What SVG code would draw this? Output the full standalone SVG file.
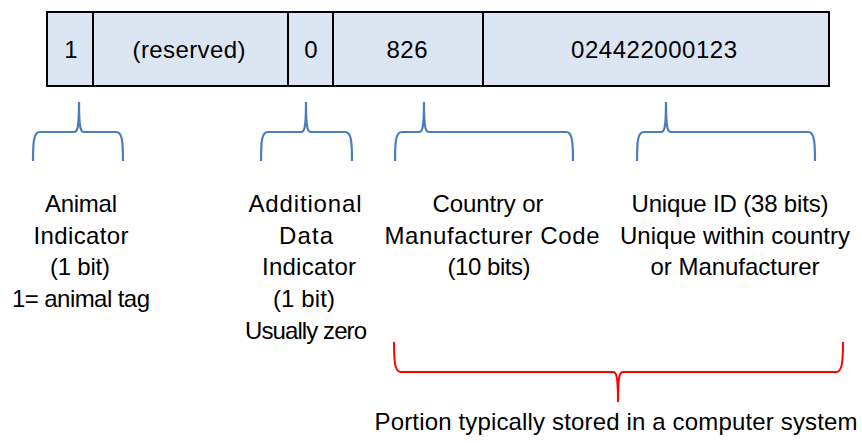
<svg xmlns="http://www.w3.org/2000/svg" width="862" height="443" viewBox="0 0 862 443">
<style>
text{font-family:"Liberation Sans",Arial,sans-serif;font-size:24px;fill:#000;text-anchor:middle}
.cell{fill:#dce6f2;stroke:#000;stroke-width:2}
.brace{fill:none;stroke:#4a7ebb;stroke-width:2.2}
.red{fill:none;stroke:#ff0000;stroke-width:2}
</style>
<rect width="862" height="443" fill="#fff"/>
<g id="field-1"><rect class="cell" x="47" y="12" width="46" height="74"/><text x="71" y="58">1</text></g>
<g id="field-reserved"><rect class="cell" x="93" y="12" width="195" height="74"/><text x="189" y="58" textLength="113" lengthAdjust="spacing">(reserved)</text></g>
<g id="field-0"><rect class="cell" x="288" y="12" width="45" height="74"/><text x="311" y="58">0</text></g>
<g id="field-826"><rect class="cell" x="333" y="12" width="150" height="74"/><text x="407" y="58" textLength="41" lengthAdjust="spacing">826</text></g>
<g id="field-id"><rect class="cell" x="483" y="12" width="346" height="74"/><text x="654" y="58" textLength="166" lengthAdjust="spacing">024422000123</text></g>
<g id="connectors">
<path class="brace" d="M33,161 C33,140 34,132 40,132 L74,132 C77,132 79,130 79,102 C79,130 81,132 84,132 L116,132 C122,132 123,140 123,161"/>
<path class="brace" d="M261,161 C261,140 262,132 268,132 L301,132 C304,132 306,130 306,102 C306,130 308,132 311,132 L345,132 C351,132 352,140 352,161"/>
<path class="brace" d="M395,161 C395,140 396,132 402,132 L419,132 C422,132 424,130 424,102 C424,130 426,132 429,132 L566,132 C572,132 573,140 573,161"/>
<path class="brace" d="M637,161 C637,140 638,132 644,132 L661,132 C664,132 666,130 666,102 C666,130 668,132 671,132 L808,132 C814,132 815,140 815,161"/>
<path class="red" d="M394,342 C394,363 395,372 401,372 L613,372 C616,372 618,374 618,402 C618,374 620,372 623,372 L836,372 C842,372 843,363 843,342"/>
</g>
<g id="label-animal">
<text x="81" y="212" textLength="72" lengthAdjust="spacing">Animal</text>
<text x="81" y="243.5" textLength="95" lengthAdjust="spacing">Indicator</text>
<text x="80" y="275" textLength="60" lengthAdjust="spacing">(1 bit)</text>
<text x="81" y="307" textLength="138" lengthAdjust="spacing">1= animal tag</text>
</g>
<g id="label-additional">
<text x="305" y="212" textLength="113" lengthAdjust="spacing">Additional</text>
<text x="306" y="243.5" textLength="54" lengthAdjust="spacing">Data</text>
<text x="309" y="275" textLength="94" lengthAdjust="spacing">Indicator</text>
<text x="304" y="307" textLength="62" lengthAdjust="spacing">(1 bit)</text>
<text x="306" y="338.5" textLength="122" lengthAdjust="spacing">Usually zero</text>
</g>
<g id="label-country">
<text x="488" y="212" textLength="111" lengthAdjust="spacing">Country or</text>
<text x="492" y="243.5" textLength="215" lengthAdjust="spacing">Manufacturer Code</text>
<text x="489" y="275" textLength="83" lengthAdjust="spacing">(10 bits)</text>
</g>
<g id="label-unique">
<text x="730" y="212" textLength="197" lengthAdjust="spacing">Unique ID  (38 bits)</text>
<text x="735" y="243.5" textLength="230" lengthAdjust="spacing">Unique within country</text>
<text x="735" y="275" textLength="169" lengthAdjust="spacing">or Manufacturer</text>
</g>
<g id="label-portion">
<text x="616" y="430" textLength="483" lengthAdjust="spacing">Portion typically stored in a computer system</text>
</g>
</svg>
